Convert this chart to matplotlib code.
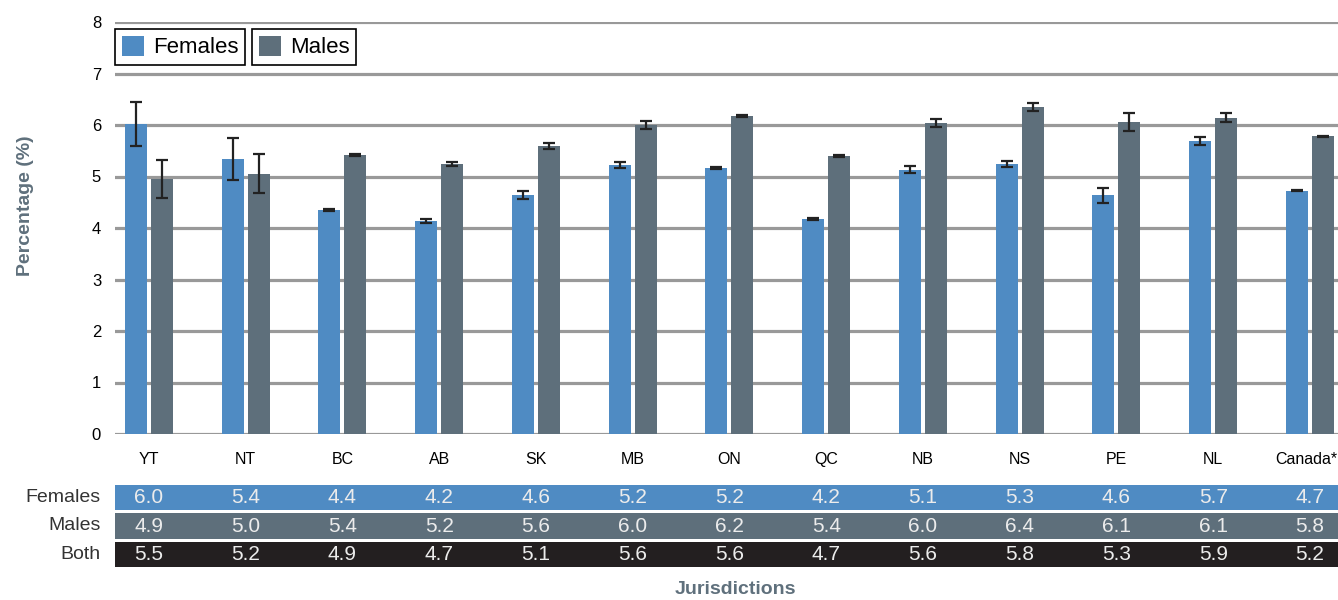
# Grouped bar chart with error bars and a small value table under the axis
import matplotlib.pyplot as plt
from matplotlib.transforms import blended_transform_factory, ScaledTranslation
import numpy as np

##------------------------------------ data --------------------------------------------------------------
jurisdictions = ['YT', 'NT', 'BC', 'AB', 'SK', 'MB', 'ON', 'QC', 'NB', 'NS', 'PE', 'NL', 'Canada*']

# bar heights
females = [6.02, 5.34, 4.35, 4.14, 4.64, 5.22, 5.17, 4.17, 5.13, 5.24, 4.64, 5.69, 4.72]
males = [4.95, 5.05, 5.42, 5.24, 5.59, 6.00, 6.17, 5.40, 6.04, 6.35, 6.06, 6.14, 5.78]

# half width of the error bars
females_err = [0.42, 0.40, 0.02, 0.04, 0.07, 0.06, 0.02, 0.02, 0.07, 0.065, 0.145, 0.085, 0.01]
males_err = [0.37, 0.38, 0.02, 0.04, 0.065, 0.07, 0.02, 0.02, 0.08, 0.07, 0.17, 0.09, 0.01]

# table rows under the chart
table_females = ['6.0', '5.4', '4.4', '4.2', '4.6', '5.2', '5.2', '4.2', '5.1', '5.3', '4.6', '5.7', '4.7']
table_males = ['4.9', '5.0', '5.4', '5.2', '5.6', '6.0', '6.2', '5.4', '6.0', '6.4', '6.1', '6.1', '5.8']
table_both = ['5.5', '5.2', '4.9', '4.7', '5.1', '5.6', '5.6', '4.7', '5.6', '5.8', '5.3', '5.9', '5.2']

##------------------------------------ style -------------------------------------------------------------
plt.rcParams['font.family'] = ['Liberation Sans', 'DejaVu Sans']

c_female = '#4f8bc3'
c_male = '#5e6f7b'
c_both = '#231f20'
c_grid = '#999999'
c_label = '#5f707c'

fig = plt.figure(figsize=(13.38, 6), dpi=100)
W, H = 1338, 600

# main axes (pixel box 115..1338 x 22..434)
ax = fig.add_axes([115 / W, (H - 434) / H, 1223 / W, 412 / H])

x = np.arange(len(jurisdictions))
bw = 0.227
off = 0.134

err_kw = dict(ecolor='#222222', elinewidth=1.6, capsize=4.3, capthick=1.6)
b_f = ax.bar(x - off, females, width=bw, color=c_female, yerr=females_err, error_kw=err_kw,
             label='Females', zorder=3)
b_m = ax.bar(x + off, males, width=bw, color=c_male, yerr=males_err, error_kw=err_kw,
             label='Males', zorder=3)

ax.set_xlim(-0.35, 12.29)
ax.set_ylim(0, 8)
ax.set_yticks(range(0, 9))
ax.yaxis.grid(True, color=c_grid, linewidth=2.3)
ax.set_axisbelow(True)
for s in ax.spines.values():
    s.set_visible(False)
ax.tick_params(axis='y', length=0, pad=10, labelsize=12)
ax.set_xticks(x)
ax.set_xticklabels(jurisdictions)
ax.tick_params(axis='x', length=0, pad=13, labelsize=11.5)
# last label sits at the right edge, nudge it in a little
last = ax.get_xticklabels()[-1]
last.set_transform(last.get_transform() + ScaledTranslation(-4 / 100, 0, fig.dpi_scale_trans))
ax.set_ylabel('Percentage (%)', fontsize=14, fontweight='bold', color=c_label)
ax.yaxis.set_label_coords(-0.066, 0.555)

# two separate legend boxes
leg_kw = dict(loc='upper left', fontsize=16, frameon=True, fancybox=False, edgecolor='black',
              handlelength=1.0, handleheight=1.0, handletextpad=0.4, borderpad=0.3,
              borderaxespad=0, framealpha=1)
leg1 = ax.legend(handles=[b_f], bbox_to_anchor=(0.0, 0.983), **leg_kw)
leg1.get_frame().set_linewidth(1.2)
ax.add_artist(leg1)
leg2 = ax.legend(handles=[b_m], bbox_to_anchor=(0.112, 0.983), **leg_kw)
leg2.get_frame().set_linewidth(1.2)

##------------------------------------ table -------------------------------------------------------------
tax = fig.add_axes([115 / W, (H - 569) / H, 1223 / W, 86 / H])
tax.set_xlim(ax.get_xlim())
tax.set_ylim(3, 0)
tax.axis('off')

rows = [('Females', table_females, c_female),
        ('Males', table_males, c_male),
        ('Both', table_both, c_both)]
trans = blended_transform_factory(tax.transAxes, tax.transData)
for r, (name, vals, col) in enumerate(rows):
    tax.axhspan(r + 0.06, r + 0.94, color=col, lw=0)
    tax.text(-0.012, r + 0.5, name, transform=trans, ha='right', va='center', fontsize=14,
             color='#333333')
    for i, v in enumerate(vals):
        tax.text(x[i], r + 0.5, v, ha='center', va='center', fontsize=15, color='#ececec')

fig.text(735 / W, 1 - 590 / H, 'Jurisdictions', ha='center', va='center', fontsize=14,
         fontweight='bold', color=c_label)

fig.savefig('out.png', dpi=100)
